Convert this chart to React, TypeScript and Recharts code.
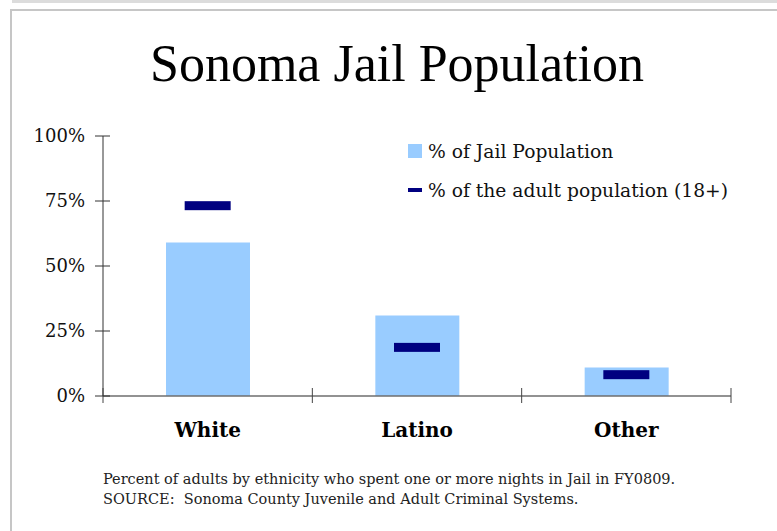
import React from "react";
import { ComposedChart, Bar, Scatter, XAxis, YAxis } from "recharts";

const categories = ["White", "Latino", "Other"];
const jailShare = [0.59, 0.31, 0.11];
const adultShare = [0.732, 0.187, 0.082];
const yTicks = [0, 0.25, 0.5, 0.75, 1];
const seriesNames = ["% of Jail Population", "% of the adult population (18+)"];
const footnotes = [
  "Percent of adults by ethnicity who spent one or more nights in Jail in FY0809.",
  "SOURCE:  Sonoma County Juvenile and Adult Criminal Systems.",
];

const BAR_COLOR = "#99ccff";
const DASH_COLOR = "#000080";
const FONT = '"DejaVu Serif", "Liberation Serif", serif';

const chartData = categories.map((name, i) => ({
  name,
  jail: jailShare[i],
  adult: adultShare[i],
}));

function YTick({ x, y, payload }: any) {
  return (
    <g>
      <line x1={x - 8} x2={x + 7} y1={y} y2={y} stroke="#333" />
      <text
        x={x - 18}
        y={y}
        dy="0.36em"
        textAnchor="end"
        fontFamily={FONT}
        fontSize={18}
        fill="#111"
      >
        {`${Math.round(payload.value * 100)}%`}
      </text>
    </g>
  );
}

// category label + tick marks on the band edges (ticks cross the axis)
function CategoryTick({ x, y, payload, index, visibleTicksCount }: any) {
  const half = payload.offset || 0;
  const last = index === (visibleTicksCount ?? categories.length) - 1;
  return (
    <g>
      <line x1={x - half} x2={x - half} y1={y - 8} y2={y + 7} stroke="#444" />
      {last && <line x1={x + half} x2={x + half} y1={y - 8} y2={y + 7} stroke="#444" />}
      <text
        x={x}
        y={y + 41}
        textAnchor="middle"
        fontFamily={FONT}
        fontWeight="bold"
        fontSize={20}
        fill="#000"
      >
        {payload.value}
      </text>
    </g>
  );
}

function DashMark({ cx, cy }: any) {
  return <rect x={cx - 23} y={cy - 4.5} width={46} height={9} fill={DASH_COLOR} />;
}

export default function App() {
  return (
    <div
      style={{
        position: "absolute",
        left: 0,
        top: 0,
        width: 777,
        height: 531,
        background: "#fff",
        overflow: "hidden",
      }}
    >
      {/* frame of the original sheet */}
      <div style={{ position: "absolute", left: 12, top: 0, right: 0, height: 3, background: "#dcdcdc" }} />
      <div style={{ position: "absolute", left: 10, top: 9, right: 0, height: 2, background: "#c6c6c6" }} />
      <div style={{ position: "absolute", left: 10, top: 9, bottom: 0, width: 2, background: "#c6c6c6" }} />

      <div
        style={{
          position: "absolute",
          left: 0,
          width: 794,
          top: 34,
          textAlign: "center",
          fontFamily: '"Liberation Serif", serif',
          fontSize: 52,
          lineHeight: "60px",
          color: "#000",
        }}
      >
        Sonoma Jail Population
      </div>

      <div style={{ position: "absolute", left: 0, top: 0 }}>
        <ComposedChart
          width={777}
          height={531}
          data={chartData}
          margin={{ top: 136, right: 46, bottom: 95, left: 43 }}
        >
          <XAxis
            dataKey="name"
            height={40}
            axisLine={{ stroke: "#6e6e6e", strokeWidth: 1.5 }}
            tickLine={false}
            tickSize={0}
            tickMargin={0}
            tick={CategoryTick}
            interval={0}
          />
          <YAxis
            domain={[0, 1]}
            ticks={yTicks}
            interval={0}
            width={60}
            axisLine={{ stroke: "#333" }}
            tickLine={false}
            tickSize={0}
            tickMargin={0}
            tick={YTick}
          />
          <Bar
            dataKey="jail"
            name={seriesNames[0]}
            fill={BAR_COLOR}
            barSize={84}
            isAnimationActive={false}
          />
          <Scatter
            dataKey="adult"
            name={seriesNames[1]}
            fill={DASH_COLOR}
            shape={DashMark}
            isAnimationActive={false}
          />
        </ComposedChart>
      </div>

      {/* legend */}
      <div
        style={{
          position: "absolute",
          left: 408,
          top: 140,
          fontFamily: FONT,
          fontSize: 18.7,
          color: "#111",
        }}
      >
        <div style={{ display: "flex", alignItems: "center", height: 22 }}>
          <span style={{ width: 14, height: 14, background: BAR_COLOR, marginRight: 6 }} />
          {seriesNames[0]}
        </div>
        <div style={{ display: "flex", alignItems: "center", height: 22, marginTop: 17 }}>
          <span style={{ width: 14, height: 4, background: DASH_COLOR, marginRight: 6 }} />
          {seriesNames[1]}
        </div>
      </div>

      <div
        style={{
          position: "absolute",
          left: 103,
          top: 469,
          fontFamily: FONT,
          fontSize: 14.5,
          lineHeight: "20px",
          color: "#222",
        }}
      >
        {footnotes.map((line) => (
          <div key={line} style={{ whiteSpace: "pre" }}>
            {line}
          </div>
        ))}
      </div>
    </div>
  );
}
